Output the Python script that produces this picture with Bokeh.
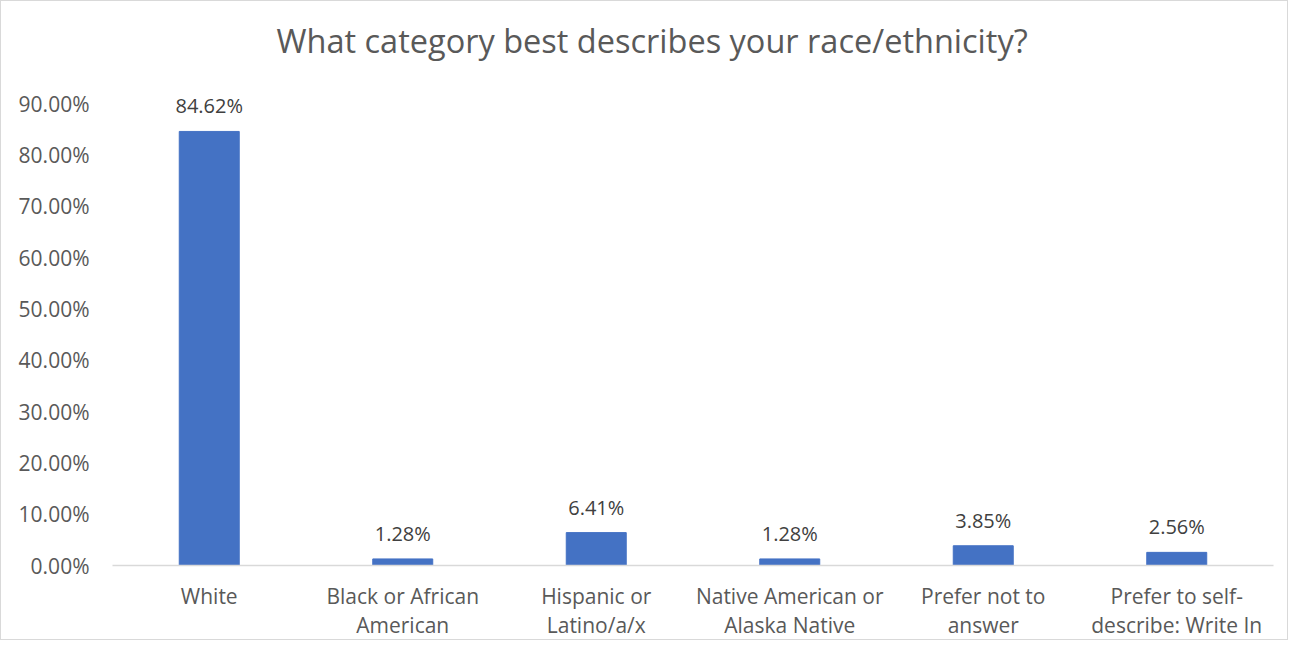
from bokeh.plotting import figure
from bokeh.models import ColumnDataSource, LabelSet, FixedTicker, NumeralTickFormatter, Range1d
from bokeh.core.properties import value
from bokeh.embed import file_html
from bokeh.resources import INLINE

categories = ["White", "Black or African\nAmerican", "Hispanic or\nLatino/a/x",
              "Native American or\nAlaska Native", "Prefer not to\nanswer",
              "Prefer to self-\ndescribe: Write In"]
values = [0.8462, 0.0128, 0.0641, 0.0128, 0.0385, 0.0256]
value_labels = ["84.62%", "1.28%", "6.41%", "1.28%", "3.85%", "2.56%"]
y_ticks = [0.0, 0.1, 0.2, 0.3, 0.4, 0.5, 0.6, 0.7, 0.8, 0.9]

FONT = "Open Sans"
src = ColumnDataSource(dict(cat=categories, val=values, lab=value_labels))

p = figure(x_range=categories, width=1288, height=640, output_backend="svg",
           toolbar_location=None, title="What category best describes your race/ethnicity?",
           min_border_left=111, min_border_right=16, min_border_top=69, min_border_bottom=75)
p.y_range = Range1d(0, 0.965)
p.vbar(x="cat", top="val", width=0.31, source=src, color="#4472C4")

p.add_layout(LabelSet(x="cat", y="val", text="lab", source=src, text_align="center",
                      text_baseline="bottom", y_offset=12, text_font=value(FONT),
                      text_font_size="20px", text_color="#404040"))

p.title.align = "left"
p.title.offset = 164
p.title.text_font = FONT
p.title.text_font_style = "normal"
p.title.text_font_size = "32.5px"
p.title.text_color = "#595959"
p.title.standoff = 15

p.xgrid.visible = False
p.ygrid.visible = False
p.outline_line_color = None

p.yaxis.ticker = FixedTicker(ticks=y_ticks)
p.yaxis.formatter = NumeralTickFormatter(format="0.00%")
p.yaxis.axis_line_color = None
p.yaxis.major_tick_line_color = None
p.yaxis.minor_tick_line_color = None
p.yaxis.major_label_standoff = 17
p.yaxis.major_label_text_font = FONT
p.yaxis.major_label_text_font_size = "21px"
p.yaxis.major_label_text_color = "#595959"

p.xaxis.axis_line_color = "#d9d9d9"
p.xaxis.axis_line_width = 1.5
p.xaxis.major_tick_line_color = None
p.xaxis.minor_tick_line_color = None
p.xaxis.major_label_standoff = 10
p.xaxis.major_label_text_font = FONT
p.xaxis.major_label_text_font_size = "21px"
p.xaxis.major_label_text_color = "#595959"
p.xaxis.major_label_text_line_height = 1.05
p.x_range.range_padding = 0

p.styles = {"border": "1px solid #d9d9d9", "box-sizing": "border-box"}

open("out.html", "w").write(file_html(p, INLINE))
